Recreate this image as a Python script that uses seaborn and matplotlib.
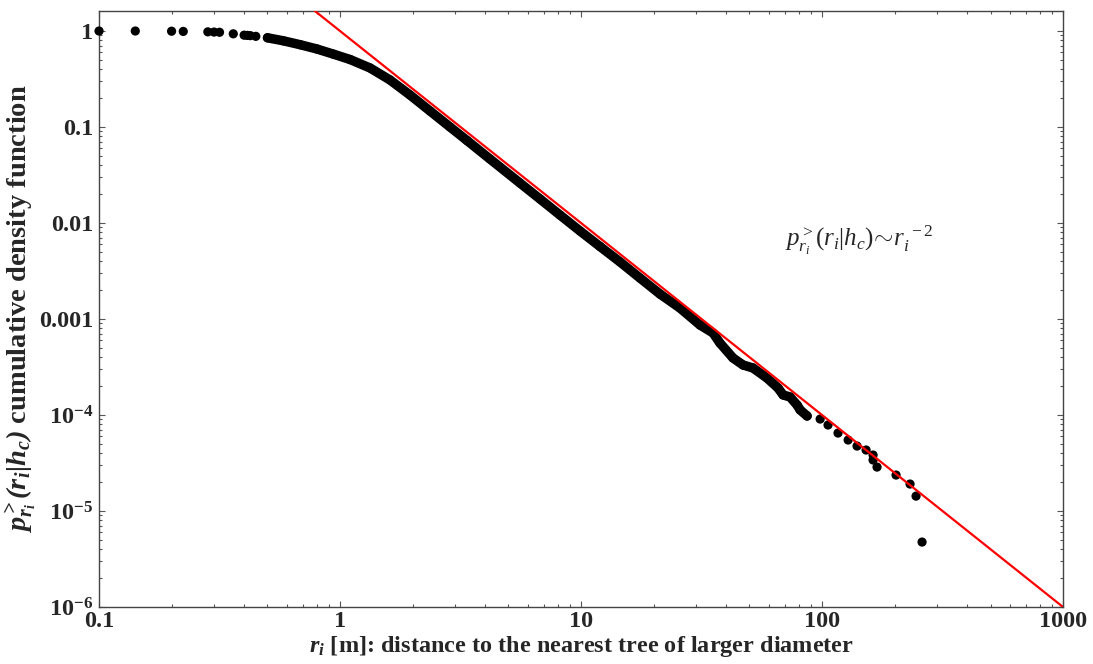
import numpy as np
import pandas as pd
import matplotlib
matplotlib.use("Agg")
import matplotlib.pyplot as plt
import matplotlib.ticker as mticker
import seaborn as sns

# ---- data ----
head_r = [0.1, 0.1414, 0.2, 0.2236, 0.2828, 0.3, 0.3162, 0.3606, 0.4, 0.4123, 0.4243, 0.4472]
head_p = [1.0, 1.0, 0.995, 0.99, 0.98, 0.975, 0.97, 0.935, 0.905, 0.90, 0.895, 0.88]

band_r = [0.5, 0.58, 0.683, 0.803, 0.935, 1.10, 1.332, 1.612, 1.952, 2.363, 2.861, 3.365,
          4.19, 5.58, 6.76, 8.18, 9.91, 11.99, 14.52, 17.57, 21.27, 25.75, 31.17, 35.3,
          37.7, 42.7, 47.0, 51.7, 59.1, 65.7, 68.9, 73.7, 78.8, 81.1, 86.7]
band_p = [0.85, 0.792, 0.720, 0.649, 0.576, 0.505, 0.412, 0.309, 0.2154, 0.1468, 0.100, 0.0723,
          0.0464, 0.0261, 0.01778, 0.01211, 0.00825, 0.00569, 0.00393, 0.00267, 0.00182,
          0.0013, 8.66e-4, 7.15e-4, 5.62e-4, 3.93e-4, 3.32e-4, 3.09e-4, 2.43e-4, 1.91e-4,
          1.62e-4, 1.54e-4, 1.27e-4, 1.13e-4, 9.77e-5]

tail_r = [98.2, 105.9, 116.5, 128.3, 139.7, 152.3, 162.8, 162.8, 169.1, 202.8, 231.8, 245.5, 260.0]
tail_p = [9.08e-5, 7.87e-5, 6.49e-5, 5.49e-5, 4.75e-5, 4.32e-5, 3.83e-5, 3.40e-5, 2.87e-5,
          2.37e-5, 1.91e-5, 1.43e-5, 4.75e-6]

fit_amplitude = 1.0
fit_exponent = -2.0
fit_r = [0.5, 1000.0]

x_ticks = [0.1, 1, 10, 100, 1000]
x_tick_labels = ["0.1", "1", "10", "100", "1000"]
y_ticks = [1, 0.1, 0.01, 0.001, 1e-4, 1e-5, 1e-6]
y_tick_labels = ["1", "0.1", "0.01", "0.001",
                 r"$\mathbf{10^{-4}}$", r"$\mathbf{10^{-5}}$", r"$\mathbf{10^{-6}}$"]

x_label = r"$\mathbfit{r_i}$ [m]: distance to the nearest tree of larger diameter"
y_label = r"$\mathbfit{p^{>}_{r_i}(r_i|h_c)}$ cumulative density function"
annotation = r"$p^{>}_{r_i}(r_i|h_c)\!\sim\! r_i^{\ -2}$"

# ---- style ----
sns.set_theme(style="ticks")
plt.rcParams["font.family"] = ["Liberation Serif", "DejaVu Serif"]
plt.rcParams["mathtext.fontset"] = "custom"
plt.rcParams["mathtext.rm"] = "Liberation Serif"
plt.rcParams["mathtext.it"] = "Liberation Serif:italic"
plt.rcParams["mathtext.bf"] = "Liberation Serif:bold"
plt.rcParams["mathtext.bfit"] = "Liberation Serif:italic:bold"

fig = plt.figure(figsize=(10.93, 6.64), dpi=100)
ax = fig.add_axes([0.0906, 0.0858, 0.882, 0.8976])

all_df = pd.DataFrame({"r": head_r + band_r + tail_r, "p": head_p + band_p + tail_p})
band_df = pd.DataFrame({"r": band_r, "p": band_p})
fit_p = [fit_amplitude * r ** fit_exponent for r in fit_r]
fit_df = pd.DataFrame({"r": fit_r, "p": fit_p})

sns.lineplot(data=band_df, x="r", y="p", ax=ax, color="black", linewidth=6.8,
             solid_capstyle="round", sort=False, estimator=None)
sns.scatterplot(data=all_df, x="r", y="p", ax=ax, color="black", s=44,
                edgecolor="none", clip_on=False, zorder=3)
sns.lineplot(data=fit_df, x="r", y="p", ax=ax, color="#ff0000", linewidth=1.6,
             sort=False, estimator=None, zorder=4)

ax.set_xscale("log")
ax.set_yscale("log")
ax.set_xlim(0.1, 1000)
ax.set_ylim(1e-6, 1.615)

ax.xaxis.set_major_locator(mticker.FixedLocator(x_ticks))
ax.xaxis.set_major_formatter(mticker.FixedFormatter(x_tick_labels))
ax.yaxis.set_major_locator(mticker.FixedLocator(y_ticks))
ax.yaxis.set_major_formatter(mticker.FixedFormatter(y_tick_labels))
ax.xaxis.set_minor_locator(mticker.LogLocator(base=10, subs=np.arange(2, 10), numticks=20))
ax.yaxis.set_minor_locator(mticker.LogLocator(base=10, subs=np.arange(2, 10), numticks=20))
ax.xaxis.set_minor_formatter(mticker.NullFormatter())
ax.yaxis.set_minor_formatter(mticker.NullFormatter())

ax.tick_params(which="both", direction="in", top=True, right=True, color="#555555", width=0.8)
ax.tick_params(which="major", length=4.5, labelsize=17.5, pad=4)
ax.tick_params(axis="x", which="major", pad=3)
ax.tick_params(which="minor", length=2.5)
for lab in ax.get_xticklabels() + ax.get_yticklabels():
    lab.set_fontweight("bold")
for sp in ax.spines.values():
    sp.set_color("#444444")
    sp.set_linewidth(1.0)

ax.set_xlabel(x_label, fontsize=17.5, fontweight="bold", labelpad=1)
ax.set_ylabel(y_label, fontsize=20.5, fontweight="bold", labelpad=0)

ax.text(70, 0.0066, annotation, fontsize=18, ha="left", va="center")

fig.savefig("out.png", dpi=100)
